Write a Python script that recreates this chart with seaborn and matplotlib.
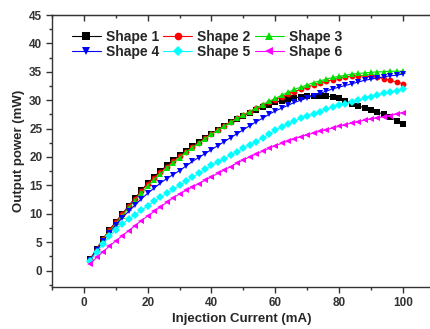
import numpy as np
import pandas as pd
import seaborn as sns
import matplotlib.pyplot as plt
from matplotlib.ticker import MultipleLocator

# injection current (mA), one point every 2 mA
current = list(range(2, 101, 2))

shape1 = [2.0, 3.8, 5.6, 7.1, 8.6, 9.9, 11.4, 12.7, 14.1, 15.4,
          16.5, 17.5, 18.5, 19.4, 20.3, 21.1, 21.9, 22.7, 23.4, 24.1,
          24.8, 25.5, 26.1, 26.7, 27.3, 27.8, 28.3, 28.8, 29.2, 29.6,
          29.9, 30.2, 30.4, 30.6, 30.7, 30.8, 30.8, 30.7, 30.6, 30.3,
          29.9, 29.4, 29.0, 28.6, 28.3, 27.9, 27.5, 27.0, 26.4, 25.8]
shape2 = [2.0, 3.8, 5.5, 7.1, 8.5, 9.9, 11.3, 12.6, 14.0, 15.3,
          16.3, 17.3, 18.3, 19.2, 20.1, 20.9, 21.7, 22.5, 23.3, 24.1,
          24.8, 25.5, 26.2, 26.8, 27.4, 28.0, 28.6, 29.1, 29.6, 30.1,
          30.6, 31.1, 31.5, 31.9, 32.3, 32.7, 33.0, 33.3, 33.6, 33.9,
          34.1, 34.2, 34.3, 34.3, 34.2, 34.0, 33.8, 33.5, 33.2, 32.9]
shape3 = [1.9, 3.6, 5.3, 6.8, 8.2, 9.6, 11.0, 12.3, 13.6, 14.9,
          16.0, 17.0, 18.0, 19.0, 19.9, 20.8, 21.6, 22.4, 23.2, 24.0,
          24.7, 25.4, 26.1, 26.8, 27.4, 28.0, 28.6, 29.2, 29.8, 30.3,
          30.9, 31.4, 31.9, 32.3, 32.7, 33.1, 33.4, 33.7, 34.0, 34.2,
          34.4, 34.6, 34.7, 34.8, 34.9, 35.0, 35.0, 35.1, 35.1, 35.1]
shape4 = [1.9, 3.6, 5.2, 6.6, 8.0, 9.3, 10.4, 11.5, 12.6, 13.6,
          14.5, 15.4, 16.2, 16.9, 17.6, 18.4, 19.2, 19.9, 20.6, 21.3,
          22.0, 22.7, 23.4, 24.1, 24.8, 25.5, 26.2, 26.8, 27.5, 28.1,
          28.6, 29.1, 29.6, 30.0, 30.4, 30.8, 31.2, 31.6, 32.0, 32.3,
          32.6, 32.9, 33.2, 33.5, 33.7, 33.9, 34.1, 34.3, 34.4, 34.6]
shape5 = [1.7, 3.3, 4.7, 6.0, 7.2, 8.2, 9.0, 9.8, 10.6, 11.4,
          12.2, 12.9, 13.6, 14.3, 15.0, 15.7, 16.4, 17.1, 17.8, 18.5,
          19.1, 19.7, 20.3, 20.9, 21.5, 22.1, 22.7, 23.3, 24.0, 24.7,
          25.3, 25.8, 26.3, 26.8, 27.2, 27.6, 28.0, 28.4, 28.8, 29.1,
          29.4, 29.7, 30.0, 30.3, 30.6, 30.9, 31.2, 31.4, 31.7, 31.9]
shape6 = [1.2, 2.3, 3.3, 4.3, 5.2, 6.1, 7.0, 7.9, 8.8, 9.6,
          10.4, 11.2, 12.0, 12.8, 13.5, 14.1, 14.7, 15.3, 15.9, 16.5,
          17.1, 17.7, 18.3, 18.9, 19.5, 20.0, 20.5, 21.0, 21.5, 22.0,
          22.4, 22.8, 23.2, 23.6, 23.9, 24.2, 24.5, 24.8, 25.1, 25.4,
          25.7, 26.0, 26.2, 26.5, 26.7, 26.9, 27.1, 27.3, 27.6, 27.8]

names = ['Shape 1', 'Shape 2', 'Shape 3', 'Shape 4', 'Shape 5', 'Shape 6']
series = [shape1, shape2, shape3, shape4, shape5, shape6]
colors = ['#000000', '#ff0000', '#00e000', '#0000ff', '#00ffff', '#ff00ff']
markers = ['s', 'o', '^', 'v', 'D', '<']

df = pd.concat([pd.DataFrame({'current': current, 'power': s, 'shape': n})
                for n, s in zip(names, series)], ignore_index=True)

sns.set_style('ticks')
plt.rcParams['font.family'] = ['Liberation Sans', 'DejaVu Sans']
plt.rcParams['font.weight'] = 'bold'

fig = plt.figure(figsize=(4.31, 3.29), dpi=100)
ax = fig.add_axes([0.1206, 0.1277, 0.8794, 0.8267])

sns.lineplot(data=df, x='current', y='power', hue='shape', style='shape',
             palette=colors, markers=markers, dashes=False, markersize=4.2,
             markeredgewidth=0, linewidth=0.8, ax=ax)

ax.set_ylim(-2.9, 45)
ax.xaxis.set_major_locator(MultipleLocator(20))
ax.xaxis.set_minor_locator(MultipleLocator(10))
ax.yaxis.set_major_locator(MultipleLocator(5))
ax.yaxis.set_minor_locator(MultipleLocator(2.5))
ax.set_xticks(range(0, 101, 20))
ax.set_xlim(-10, 108.8)

ax.tick_params(which='major', direction='out', length=4, width=1, labelsize=8.5,
               colors='#333333', pad=3)
ax.tick_params(which='minor', direction='out', length=2.5, width=1, colors='#333333')
top = ax.secondary_xaxis('top')
top.xaxis.set_major_locator(MultipleLocator(20))
top.xaxis.set_minor_locator(MultipleLocator(10))
top.tick_params(which='major', direction='in', length=4, width=1, labeltop=False, colors='#333333')
top.tick_params(which='minor', direction='in', length=2.5, width=1, colors='#333333')
top.spines['top'].set_color('#333333')

ax.spines['right'].set_visible(False)
for side in ['left', 'bottom', 'top']:
    ax.spines[side].set_color('#333333')
    ax.spines[side].set_linewidth(1)

ax.set_xlabel('Injection Current (mA)', fontsize=9.5, fontweight='bold', labelpad=3)
ax.set_ylabel('Output power (mW)', fontsize=9.5, fontweight='bold', labelpad=3)

# legend filled row by row: Shape 1-3 on top, Shape 4-6 below
handles, labels = ax.get_legend_handles_labels()
order = [0, 3, 1, 4, 2, 5]
leg = ax.legend([handles[i] for i in order], [labels[i] for i in order], ncol=3,
                loc='upper left', bbox_to_anchor=(0.03, 0.975), frameon=False,
                fontsize=10, handlelength=2.1, handletextpad=0.35, columnspacing=0.3,
                labelspacing=0.05, borderaxespad=0.2)
for h in leg.legend_handles:
    h.set_markersize(5.5)

fig.savefig('out.png', dpi=100)
